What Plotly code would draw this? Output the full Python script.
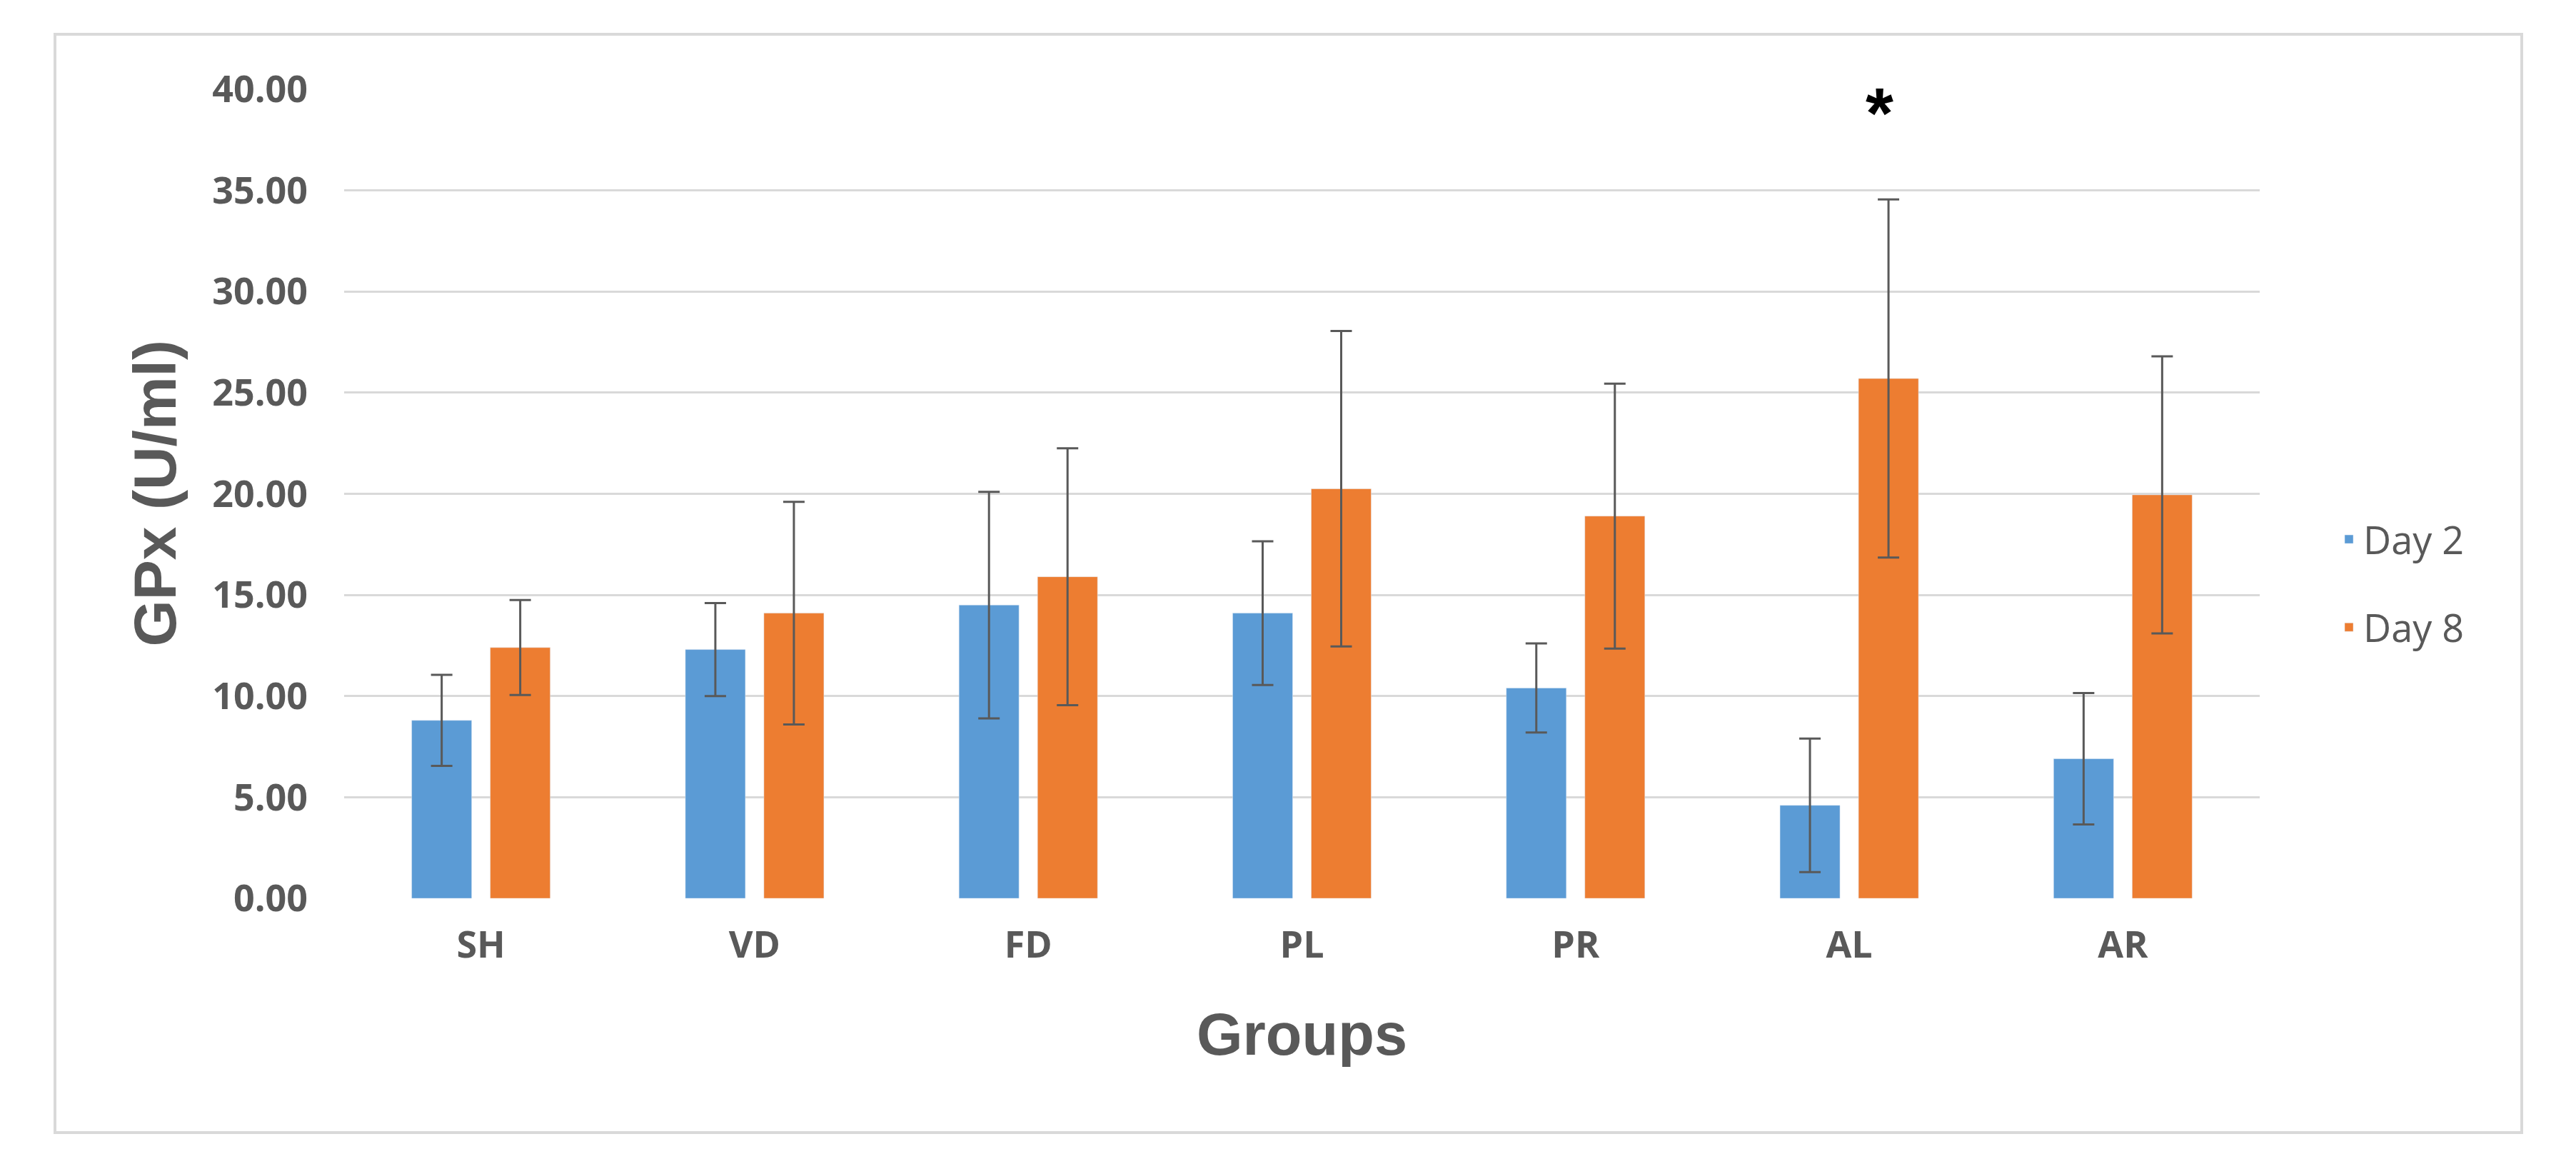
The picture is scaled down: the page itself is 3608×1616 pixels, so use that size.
import plotly.graph_objects as go

groups = ["SH", "VD", "FD", "PL", "PR", "AL", "AR"]
day2 = [8.8, 12.3, 14.5, 14.1, 10.4, 4.6, 6.9]
day2_err = [2.25, 2.3, 5.6, 3.55, 2.2, 3.3, 3.25]
day8 = [12.4, 14.1, 15.9, 20.25, 18.9, 25.7, 19.95]
day8_err = [2.35, 5.5, 6.35, 7.8, 6.55, 8.85, 6.85]
y_ticks = [0, 5, 10, 15, 20, 25, 30, 35, 40]
star_group = "AL"
star_value = 38.85

BLUE = "#5B9BD5"
ORANGE = "#ED7D31"
GRAY = "#595959"

W, H = 3608, 1616
L, R, T, B = 474, 451, 117, 366
pw = W - L - R
ph = H - T - B

def px_x(p):
    return (p - L) / pw

def px_y(p):
    return (H - B - p) / ph

fig = go.Figure()
fig.add_trace(go.Bar(
    name="Day 2", x=groups, y=day2, marker_color=BLUE, legendgroup="d2",
    error_y=dict(type="data", array=day2_err, color=GRAY, thickness=3, width=15),
))
fig.add_trace(go.Bar(
    name="Day 8", x=groups, y=day8, marker_color=ORANGE, legendgroup="d8",
    error_y=dict(type="data", array=day8_err, color=GRAY, thickness=3, width=15),
))

fig.update_layout(
    width=W, height=H,
    margin=dict(l=L, r=R, t=T, b=B, pad=0),
    paper_bgcolor="white", plot_bgcolor="white",
    barmode="group", bargap=0.426, bargroupgap=0.236,
    showlegend=True,
    legend=dict(
        x=px_x(3262), xanchor="left", y=px_y(809), yanchor="middle",
        font=dict(family="Open Sans", size=54, color=GRAY),
        tracegroupgap=50, itemwidth=30, bgcolor="rgba(0,0,0,0)",
    ),
    xaxis=dict(
        showgrid=False, showline=False, ticks="", zeroline=False,
        tickfont=dict(family="Open Sans", size=52, color=GRAY, weight="bold"),
        ticklabelstandoff=30,
    ),
    yaxis=dict(
        range=[0, 40], tickvals=y_ticks, tickformat=".2f",
        showgrid=True, gridcolor="#D9D9D9", gridwidth=3,
        zeroline=False, showline=False, ticks="",
        tickfont=dict(family="Open Sans", size=52, color=GRAY, weight="bold"),
        ticklabelstandoff=50,
    ),
    annotations=[
        dict(text="GPx (U/ml)", textangle=-90, xref="paper", yref="paper",
             x=px_x(208), y=0.5, xanchor="center", yanchor="middle", showarrow=False,
             font=dict(family="Liberation Sans", size=84, color=GRAY, weight="bold")),
        dict(text="Groups", xref="paper", yref="paper",
             x=0.5, y=px_y(1440), xanchor="center", yanchor="middle", showarrow=False,
             font=dict(family="Liberation Sans", size=83, color=GRAY, weight="bold")),
        dict(text="*", xref="x", yref="y", x=star_group, y=star_value, xshift=42,
             xanchor="center", yanchor="middle", showarrow=False,
             font=dict(family="Liberation Sans", size=100, color="black", weight="bold")),
    ],
    shapes=[
        dict(type="rect", xref="paper", yref="paper",
             x0=px_x(69), x1=px_x(3524), y0=px_y(1578), y1=px_y(40),
             line=dict(color="#D9D9D9", width=4), fillcolor="rgba(0,0,0,0)", layer="below"),
    ],
)

fig.write_html("out.html")
